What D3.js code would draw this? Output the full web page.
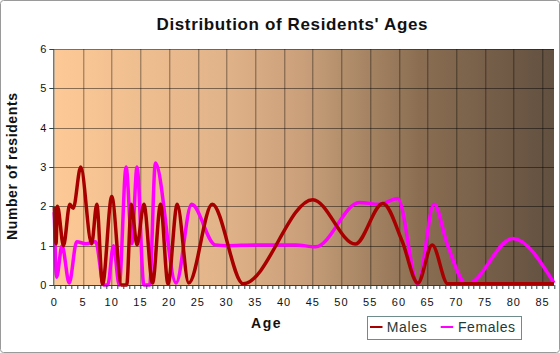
<!DOCTYPE html>
<html>
<head>
<meta charset="utf-8">
<script src="https://cdn.jsdelivr.net/npm/d3@7"></script>
<style>
  body { margin: 0; background: #fff; }
  text { font-family: Arial, "Liberation Sans", sans-serif; }
</style>
</head>
<body>
<div id="chart"></div>
<script>
//Key points (age, number of residents)
let maleAges = [0, 0.3, 0.55, 1.6, 2.7, 3.3, 4.6, 6.5, 7.4, 8.4, 10.0, 11.7, 12.6, 13.4, 14.4, 15.6, 17.1, 18.5, 19.8, 21.4, 23.4, 27.5, 32.9, 45, 52.4, 57.2, 60.6, 63.3, 65.8, 68.5, 87];
let maleValues = [2, 1.05, 2, 1.0, 2.05, 1.95, 3.0, 1.05, 2.05, 0.02, 2.25, 0, 0, 2.05, 1.02, 2.05, 0.05, 2.05, 0.03, 2.05, 0.05, 2.05, 0.03, 2.17, 1.04, 2.07, 1.1, 0.05, 1.02, 0.03, 0.03];

let femaleAges = [0, 0.4, 1.35, 2.6, 3.9, 5.5, 7.2, 8.6, 9.3, 10.3, 11.3, 12.5, 13.5, 14.4, 15.6, 16.6, 17.6, 21.2, 23.9, 28, 30, 35, 42, 45.5, 53.1, 56.6, 59.8, 63.3, 66.1, 68.5, 71.8, 79.8, 87];
let femaleValues = [1.85, 0.2, 1.0, 0.05, 1.1, 1.05, 1.1, 0, 0, 1.0, 0, 3.0, 1.05, 3.0, 0, 0, 3.1, 0.05, 2.05, 1.02, 1.0, 1.02, 1.02, 0.97, 2.1, 2.05, 2.2, 0.02, 2.05, 1.0, 0.02, 1.18, 0.05];

let xTicks = d3.range(0, 90, 5);
let yTicks = [0, 1, 2, 3, 4, 5, 6];
let seriesNames = ["Males", "Females"];
let seriesColors = ["#a80000", "#ff00ff"];

function ageChart() {
  let width = 560, height = 353;
  let margin = { top: 49, right: 6, bottom: 68, left: 54.3 };
  let plotW = width - margin.left - margin.right,
    plotH = height - margin.top - margin.bottom;

  let svg = d3.select("#chart").append("svg")
    .attr("width", width)
    .attr("height", height);

  //outer frame
  svg.append("rect")
    .attr("x", 0.5).attr("y", 0.5)
    .attr("width", width - 1).attr("height", height - 1)
    .attr("rx", 3)
    .attr("fill", "#fff")
    .attr("stroke", "#9a9a9a");

  //Background gradient light peach -> dark brown
  let grad = svg.append("defs").append("linearGradient")
    .attr("id", "bg").attr("x1", "0%").attr("x2", "100%");
  [[0, "#fdc996"], [0.33, "#e2b48a"], [0.5, "#c99f7a"], [0.6, "#ad8a68"],
   [0.73, "#8b6e52"], [1, "#625040"]].forEach(function (s) {
    grad.append("stop").attr("offset", s[0]).attr("stop-color", s[1]);
  });

  let xScale = d3.scaleLinear().domain([0, 87]).range([0, plotW]);
  let yScale = d3.scaleLinear().domain([0, 6]).range([plotH, 0]);

  let g = svg.append("g")
    .attr("transform", "translate(" + margin.left + "," + margin.top + ")");

  g.append("rect")
    .attr("width", plotW).attr("height", plotH)
    .attr("fill", "url(#bg)");

  //grid lines
  g.append("g").selectAll("line")
    .data(xTicks.filter(function (d) { return d > 0; }))
    .enter().append("line")
    .attr("x1", function (d) { return Math.round(xScale(d)) + 0.5; })
    .attr("x2", function (d) { return Math.round(xScale(d)) + 0.5; })
    .attr("y1", 0).attr("y2", plotH)
    .attr("stroke", "#000").attr("stroke-opacity", 0.45);
  g.append("g").selectAll("line")
    .data(yTicks.filter(function (d) { return d > 0; }))
    .enter().append("line")
    .attr("x1", 0).attr("x2", plotW)
    .attr("y1", function (d) { return Math.round(yScale(d)) + 0.5; })
    .attr("y2", function (d) { return Math.round(yScale(d)) + 0.5; })
    .attr("stroke", "#000").attr("stroke-opacity", 0.45);

  //lines
  let line = d3.line()
    .x(function (d) { return xScale(d[0]); })
    .y(function (d) { return yScale(d[1]); })
    .curve(d3.curveMonotoneX);

  let series = [
    d3.zip(maleAges, maleValues),
    d3.zip(femaleAges, femaleValues)
  ];
  // draw females first so males sit on top where they cross
  [1, 0].forEach(function (i) {
    g.append("path")
      .datum(series[i])
      .attr("d", line)
      .attr("fill", "none")
      .attr("stroke", seriesColors[i])
      .attr("stroke-width", 3.5)
      .attr("stroke-linejoin", "round");
  });

  //x axis with minor ticks every year
  let xAxis = g.append("g").attr("transform", "translate(0," + plotH + ")");
  xAxis.append("line")
    .attr("x1", 0).attr("x2", plotW).attr("y1", 0.5).attr("y2", 0.5)
    .attr("stroke", "#2b4545");
  xAxis.selectAll(".minor")
    .data(d3.range(0, 88))
    .enter().append("line")
    .attr("x1", function (d) { return Math.round(xScale(d)) + 0.5; })
    .attr("x2", function (d) { return Math.round(xScale(d)) + 0.5; })
    .attr("y1", 0).attr("y2", 4)
    .attr("stroke", "#2b4545");
  xAxis.selectAll(".lab")
    .data(xTicks)
    .enter().append("text")
    .attr("x", function (d) { return xScale(d); })
    .attr("y", 21)
    .attr("text-anchor", "middle")
    .attr("font-size", 11)
    .attr("letter-spacing", 1)
    .attr("fill", "#111")
    .text(String);

  //y axis
  let yAxis = g.append("g");
  yAxis.append("line")
    .attr("x1", -0.5).attr("x2", -0.5).attr("y1", 0).attr("y2", plotH)
    .attr("stroke", "#2b4545");
  yAxis.selectAll(".tick")
    .data(yTicks)
    .enter().append("line")
    .attr("x1", -5).attr("x2", 0)
    .attr("y1", function (d) { return Math.round(yScale(d)) + 0.5; })
    .attr("y2", function (d) { return Math.round(yScale(d)) + 0.5; })
    .attr("stroke", "#2b4545");
  yAxis.selectAll(".lab")
    .data(yTicks)
    .enter().append("text")
    .attr("x", -8)
    .attr("y", function (d) { return yScale(d) + 4; })
    .attr("text-anchor", "end")
    .attr("font-size", 11)
    .attr("fill", "#111")
    .text(String);

  //titles
  svg.append("text")
    .attr("x", 292).attr("y", 30)
    .attr("text-anchor", "middle")
    .attr("font-size", 17).attr("font-weight", "bold")
    .attr("textLength", 271).attr("lengthAdjust", "spacing")
    .attr("fill", "#111")
    .text("Distribution of Residents' Ages");
  svg.append("text")
    .attr("transform", "translate(17,166.5) rotate(-90)")
    .attr("text-anchor", "middle")
    .attr("font-size", 14).attr("font-weight", "bold")
    .attr("textLength", 147).attr("lengthAdjust", "spacing")
    .attr("fill", "#111")
    .text("Number of residents");
  svg.append("text")
    .attr("x", 266.5).attr("y", 328)
    .attr("text-anchor", "middle")
    .attr("font-size", 14).attr("font-weight", "bold")
    .attr("letter-spacing", 1.5)
    .attr("fill", "#111")
    .text("Age");

  //legend
  let legend = svg.append("g");
  legend.append("rect")
    .attr("x", 367.5).attr("y", 316.5).attr("width", 154).attr("height", 23)
    .attr("fill", "none").attr("stroke", "#6f8c8c");
  let lx = [370, 440.7], tx = [386.7, 458], tw = [40, 57];
  seriesNames.forEach(function (name, i) {
    legend.append("line")
      .attr("x1", lx[i]).attr("x2", lx[i] + 12.5)
      .attr("y1", 327).attr("y2", 327)
      .attr("stroke", seriesColors[i]).attr("stroke-width", 2);
    legend.append("text")
      .attr("x", tx[i]).attr("y", 332)
      .attr("font-size", 14)
      .attr("textLength", tw[i]).attr("lengthAdjust", "spacing")
      .attr("fill", "#1e3a3a")
      .text(name);
  });
}

ageChart();
</script>
</body>
</html>
